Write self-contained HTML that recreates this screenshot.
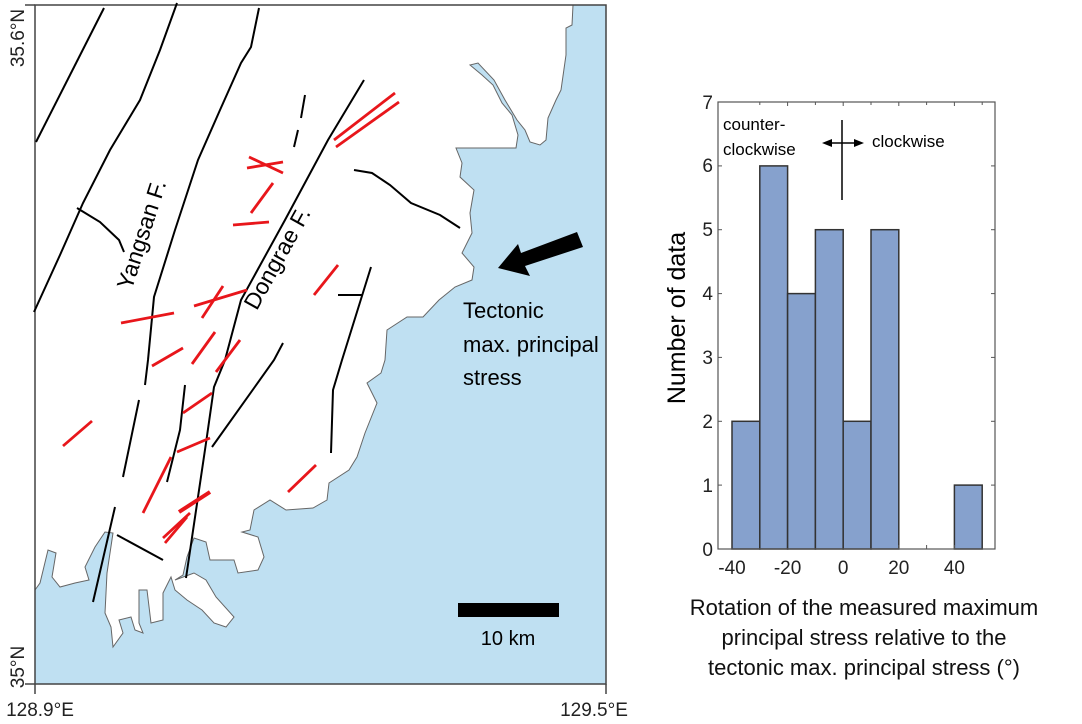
<!DOCTYPE html>
<html><head><meta charset="utf-8"><style>
body{margin:0;background:#fff;width:1082px;height:719px;overflow:hidden}
svg{font-family:"Liberation Sans",Arial,sans-serif}
</style></head><body>
<svg width="1082" height="719" viewBox="0 0 1082 719">
<!-- MAP -->
<rect x="35" y="5" width="571" height="679" fill="#bfe0f2"/>
<polygon fill="#fff" stroke="#666" stroke-width="1" points="35,5 573,5 572,25 566,28 566,55 561,90 556,100 548,118 546,140 540,145 530,142 525,130 517,120 505,100 494,80 478,63 470,65 482,75 493,85 502,103 512,115 518,135 516,148 456,148 462,163 460,177 474,190 470,213 472,233 462,253 474,267 472,280 455,287 439,300 423,317 407,317 387,330 385,360 381,373 367,383 377,403 371,418 365,433 357,457 349,470 329,483 327,500 313,508 286,510 270,500 254,510 250,530 242,532 258,537 264,557 258,570 238,573 234,560 210,560 206,542 194,538 187,557 183,575 175,580 194,573 206,580 216,597 234,617 226,627 214,623 202,610 187,600 175,590 171,577 163,593 163,620 151,623 147,590 139,590 139,623 143,633 135,630 131,617 119,620 123,633 113,647 111,627 105,613 107,573 113,533 105,532 95,547 85,567 89,580 75,583 60,587 52,577 56,553 48,550 40,583 35,590"/>
<rect x="35" y="5" width="571" height="679" fill="none" stroke="#444" stroke-width="1.5"/>
<g stroke="#444" stroke-width="1.5"><line x1="25" y1="5" x2="35" y2="5"/><line x1="25" y1="684" x2="35" y2="684"/><line x1="35" y1="684" x2="35" y2="694"/><line x1="606" y1="684" x2="606" y2="694"/></g>
<g fill="none" stroke="#000" stroke-width="2">
<polyline points="104,8 36,142"/>
<polyline points="177,3 160,50 140,100 110,150 83,203 60,255 34,312"/>
<polyline points="77,208 100,222 119,240 124,252"/>
<polyline points="259,8 251,47 241,63 220,110 198,160 175,230 154,297 148,360 145,385"/>
<polyline points="139,400 123,477"/>
<polyline points="115,507 93,602"/>
<polyline points="364,80 328,140 285,220 241,300 225,360 214,387 206,443 186,578"/>
<polyline points="305,95 301,118"/><polyline points="298,130 294,147"/>
<polyline points="354,170 372,173 390,185 411,203 440,215 460,228"/>
<polyline points="371,267 342,360 333,390 331,453"/>
<polyline points="338,295 362,295"/>
<polyline points="283,343 274,360 212,447"/>
<polyline points="185,385 180,430 167,482"/>
<polyline points="117,535 163,560"/>
</g>
<g stroke="#e8161b" stroke-width="2.8" fill="none">
<line x1="334" y1="140" x2="395" y2="93"/><line x1="336" y1="147" x2="399" y2="102"/>
<line x1="247" y1="168" x2="283" y2="162"/><line x1="249" y1="157" x2="283" y2="173"/>
<line x1="273" y1="183" x2="251" y2="213"/>
<line x1="233" y1="225" x2="269" y2="222"/>
<line x1="338" y1="265" x2="314" y2="295"/>
<line x1="121" y1="323" x2="174" y2="313"/>
<line x1="194" y1="306" x2="247" y2="290"/>
<line x1="223" y1="286" x2="202" y2="318"/>
<line x1="63" y1="446" x2="92" y2="421"/>
<line x1="152" y1="366" x2="183" y2="348"/>
<line x1="215" y1="332" x2="192" y2="364"/>
<line x1="240" y1="340" x2="216" y2="372"/>
<line x1="183" y1="413" x2="212" y2="393"/>
<line x1="177" y1="452" x2="210" y2="438"/>
<line x1="143" y1="513" x2="171" y2="457"/>
<line x1="179" y1="512" x2="210" y2="492" stroke-width="4"/>
<line x1="163" y1="538" x2="190" y2="513"/><line x1="165" y1="543" x2="187" y2="517"/>
<line x1="288" y1="492" x2="316" y2="465"/>
</g>
<polygon points="577,232 583,247 525,266 530,276 498,268 518,244 521,253" fill="#000"/>
<g font-size="22" fill="#000">
<text x="463" y="318">Tectonic</text>
<text x="463" y="352">max. principal</text>
<text x="463" y="385">stress</text>
<text transform="translate(149,237) rotate(-72)" text-anchor="middle" font-size="23">Yangsan F.</text>
<text transform="translate(284,262) rotate(-61)" text-anchor="middle" font-size="23">Dongrae F.</text>
</g>
<rect x="458" y="603" width="101" height="14" fill="#000"/>
<text x="508" y="645" font-size="20" text-anchor="middle">10 km</text>
<g font-size="19" fill="#222">
<text transform="translate(24,38) rotate(-90)" text-anchor="middle">35.6°N</text>
<text transform="translate(24,667) rotate(-90)" text-anchor="middle">35°N</text>
<text x="40" y="716" text-anchor="middle">128.9°E</text>
<text x="594" y="716" text-anchor="middle">129.5°E</text>
</g>
<!-- HISTOGRAM -->
<g fill="#86a1cd" stroke="#333" stroke-width="1.5">
<rect x="732" y="421.3" width="27.8" height="127.7"/>
<rect x="759.8" y="165.9" width="27.8" height="383.1"/>
<rect x="787.6" y="293.6" width="27.8" height="255.4"/>
<rect x="815.4" y="229.7" width="27.8" height="319.3"/>
<rect x="843.2" y="421.3" width="27.8" height="127.7"/>
<rect x="871" y="229.7" width="27.8" height="319.3"/>
<rect x="954.4" y="485.1" width="27.8" height="63.9"/>
</g>
<rect x="718" y="102" width="277" height="447" fill="none" stroke="#555" stroke-width="1.2"/>
<g stroke="#555" stroke-width="1">
<line x1="718" y1="485.1" x2="722" y2="485.1"/><line x1="718" y1="421.3" x2="722" y2="421.3"/><line x1="718" y1="357.4" x2="722" y2="357.4"/><line x1="718" y1="293.6" x2="722" y2="293.6"/><line x1="718" y1="229.7" x2="722" y2="229.7"/><line x1="718" y1="165.9" x2="722" y2="165.9"/>
<line x1="995" y1="485.1" x2="991" y2="485.1"/><line x1="995" y1="421.3" x2="991" y2="421.3"/><line x1="995" y1="357.4" x2="991" y2="357.4"/><line x1="995" y1="293.6" x2="991" y2="293.6"/><line x1="995" y1="229.7" x2="991" y2="229.7"/><line x1="995" y1="165.9" x2="991" y2="165.9"/>
<line x1="787.6" y1="102" x2="787.6" y2="106"/><line x1="843.2" y1="102" x2="843.2" y2="106"/><line x1="898.8" y1="102" x2="898.8" y2="106"/><line x1="954.4" y1="102" x2="954.4" y2="106"/><line x1="759.8" y1="102" x2="759.8" y2="105"/><line x1="815.4" y1="102" x2="815.4" y2="105"/><line x1="871" y1="102" x2="871" y2="105"/><line x1="926.6" y1="102" x2="926.6" y2="105"/><line x1="982.2" y1="102" x2="982.2" y2="105"/>
<line x1="898.8" y1="549" x2="898.8" y2="545"/><line x1="926.6" y1="549" x2="926.6" y2="545"/><line x1="954.4" y1="549" x2="954.4" y2="545"/>
</g>
<g font-size="19" fill="#222" text-anchor="end">
<text x="713" y="556">0</text><text x="713" y="492">1</text><text x="713" y="428">2</text><text x="713" y="364">3</text><text x="713" y="300">4</text><text x="713" y="236">5</text><text x="713" y="172">6</text><text x="713" y="109">7</text>
</g>
<g font-size="19" fill="#222" text-anchor="middle">
<text x="732" y="574">-40</text><text x="787.6" y="574">-20</text><text x="843.2" y="574">0</text><text x="898.8" y="574">20</text><text x="954.4" y="574">40</text>
</g>
<text transform="translate(685,318) rotate(-90)" text-anchor="middle" font-size="25">Number of data</text>
<g font-size="17" fill="#000">
<text x="723" y="130">counter-</text>
<text x="723" y="155">clockwise</text>
<text x="872" y="147">clockwise</text>
</g>
<line x1="842" y1="120" x2="842" y2="200" stroke="#000" stroke-width="1.5"/>
<line x1="830" y1="143" x2="856" y2="143" stroke="#000" stroke-width="1.5"/>
<polygon points="822,143 832,139 832,147" fill="#000"/>
<polygon points="864,143 854,139 854,147" fill="#000"/>
<g font-size="22" fill="#111" text-anchor="middle">
<text x="864" y="615">Rotation of the measured maximum</text>
<text x="864" y="645">principal stress relative to the</text>
<text x="864" y="675">tectonic max. principal stress (°)</text>
</g>
</svg>
</body></html>
